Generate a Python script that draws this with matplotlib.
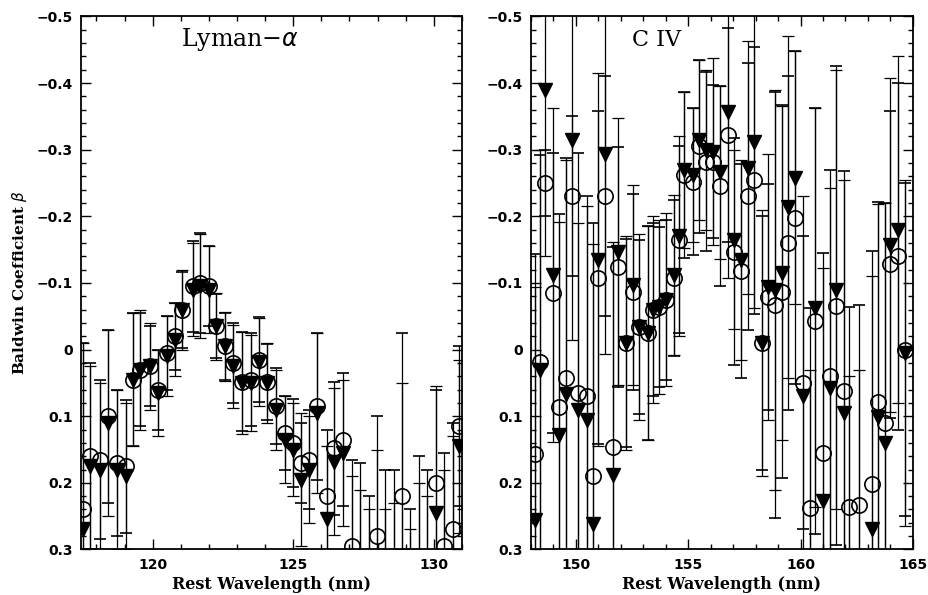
import numpy as np
import matplotlib
matplotlib.use("Agg")
import matplotlib.pyplot as plt
from matplotlib.ticker import FixedLocator, MultipleLocator

# ---- Lyman-alpha panel: wavelength (nm), beta for the two samples, 1-sigma errors
lya_wave = [117.52, 117.77, 118.12, 118.40, 118.72, 119.04, 119.29, 119.54, 119.89, 120.18,
            120.50, 120.78, 121.06, 121.42, 121.67, 121.99, 122.27, 122.59, 122.87, 123.19,
            123.51, 123.79, 124.08, 124.40, 124.72, 125.00, 125.28, 125.57, 125.85, 126.21,
            126.45, 126.77, 127.09, 127.38, 127.70, 127.98, 128.26, 128.58, 128.87, 129.15,
            129.47, 129.75, 130.07, 130.35, 130.67, 130.89]
lya_circ = [0.24, 0.16, 0.165, 0.10, 0.17, 0.175, 0.045, 0.03, 0.025, 0.06,
            0.005, -0.02, -0.06, -0.095, -0.10, -0.095, -0.035, -0.005, 0.02, 0.048,
            0.045, 0.015, 0.048, 0.085, 0.125, 0.14, 0.17, 0.165, 0.085, 0.22,
            0.148, 0.135, 0.295, 0.33, 0.36, 0.28, 0.34, 0.38, 0.22, 0.40,
            0.36, 0.38, 0.20, 0.295, 0.27, 0.115]
lya_tri = [0.27, 0.175, 0.18, 0.11, 0.18, 0.19, 0.045, 0.03, 0.025, 0.065,
           0.01, -0.015, -0.06, -0.09, -0.095, -0.09, -0.035, -0.005, 0.025, 0.05,
           0.05, 0.018, 0.05, 0.09, 0.135, 0.15, 0.195, 0.18, 0.095, 0.255,
           0.168, 0.155, 0.34, 0.38, 0.40, 0.35, 0.42, 0.45, 0.31, 0.45,
           0.42, 0.44, 0.245, 0.34, 0.31, 0.145]
lya_circ_err = [0.25, 0.14, 0.12, 0.13, 0.11, 0.10, 0.10, 0.085, 0.06, 0.06,
                0.056, 0.05, 0.057, 0.068, 0.075, 0.06, 0.048, 0.05, 0.06, 0.074,
                0.07, 0.064, 0.057, 0.057, 0.055, 0.066, 0.06, 0.075, 0.11, 0.10,
                0.10, 0.10, 0.13, 0.16, 0.14, 0.18, 0.16, 0.20, 0.245, 0.16,
                0.20, 0.20, 0.14, 0.14, 0.16, 0.12]
lya_tri_err = [0.28, 0.15, 0.13, 0.14, 0.12, 0.11, 0.10, 0.09, 0.065, 0.065,
               0.06, 0.055, 0.06, 0.07, 0.078, 0.065, 0.05, 0.052, 0.062, 0.076,
               0.072, 0.066, 0.06, 0.06, 0.065, 0.07, 0.10, 0.08, 0.12, 0.11,
               0.11, 0.11, 0.15, 0.17, 0.16, 0.20, 0.18, 0.22, 0.26, 0.18,
               0.22, 0.22, 0.19, 0.16, 0.18, 0.13]

# ---- C IV panel
civ_wave = [148.18, 148.40, 148.63, 148.98, 149.25, 149.57, 149.83, 150.10, 150.51, 150.77,
            151.00, 151.31, 151.67, 151.89, 152.25, 152.52, 152.79, 153.19, 153.41, 153.68,
            154.00, 154.35, 154.57, 154.80, 155.20, 155.47, 155.79, 156.10, 156.41, 156.77,
            157.04, 157.35, 157.66, 157.93, 158.29, 158.56, 158.87, 159.19, 159.45, 159.77,
            160.13, 160.44, 160.66, 161.02, 161.29, 161.60, 161.92, 162.18, 162.59, 163.17,
            163.44, 163.75, 163.97, 164.33, 164.64]
civ_circ = [0.157, 0.018, -0.25, -0.085, 0.086, 0.043, -0.23, 0.065, 0.07, 0.19,
            -0.108, -0.23, 0.146, -0.124, -0.01, -0.087, -0.034, -0.025, -0.06, -0.064,
            -0.075, -0.108, -0.165, -0.262, -0.252, -0.305, -0.282, -0.282, -0.245, -0.322,
            -0.147, -0.118, -0.23, -0.254, -0.01, -0.079, -0.067, -0.087, -0.16, -0.198,
            0.05, 0.238, -0.043, 0.155, 0.04, -0.066, 0.062, 0.236, 0.233, 0.202,
            0.078, 0.11, -0.128, -0.14, 0.0]
civ_tri = [0.256, 0.03, -0.39, -0.112, 0.128, 0.066, -0.315, 0.09, 0.105, 0.262,
           -0.135, -0.294, 0.188, -0.147, -0.01, -0.097, -0.034, -0.025, -0.06, -0.064,
           -0.075, -0.112, -0.17, -0.27, -0.262, -0.315, -0.30, -0.297, -0.266, -0.357,
           -0.165, -0.135, -0.273, -0.312, -0.01, -0.094, -0.09, -0.115, -0.214, -0.258,
           0.07, 0.33, -0.063, 0.227, 0.058, -0.09, 0.095, 0.34, 0.33, 0.27,
           0.101, 0.14, -0.157, -0.18, 0.005]
civ_circ_err = [0.30, 0.31, 0.05, 0.21, 0.29, 0.33, 0.12, 0.36, 0.30, 0.38,
                0.25, 0.18, 0.30, 0.18, 0.156, 0.147, 0.13, 0.16, 0.13, 0.12,
                0.12, 0.117, 0.14, 0.125, 0.11, 0.13, 0.134, 0.115, 0.15, 0.16,
                0.17, 0.16, 0.20, 0.20, 0.19, 0.17, 0.32, 0.28, 0.25, 0.25,
                0.22, 0.30, 0.32, 0.30, 0.31, 0.36, 0.33, 0.30, 0.30, 0.35,
                0.30, 0.33, 0.23, 0.26, 0.25]
civ_tri_err = [0.35, 0.33, 0.25, 0.25, 0.32, 0.35, 0.30, 0.28, 0.32, 0.42,
               0.28, 0.30, 0.35, 0.20, 0.16, 0.15, 0.14, 0.16, 0.14, 0.13,
               0.13, 0.12, 0.15, 0.117, 0.10, 0.12, 0.12, 0.14, 0.13, 0.25,
               0.134, 0.15, 0.19, 0.25, 0.20, 0.20, 0.30, 0.25, 0.256, 0.19,
               0.30, 0.30, 0.30, 0.35, 0.30, 0.33, 0.35, 0.30, 0.30, 0.38,
               0.32, 0.36, 0.25, 0.26, 0.26]

ytick_vals = [-0.5, -0.4, -0.3, -0.2, -0.1, 0.0, 0.1, 0.2, 0.3]
ytick_labels = ["\u22120.5", "\u22120.4", "\u22120.3", "\u22120.2", "\u22120.1", "0", "0.1", "0.2", "0.3"]
lya_xticks = [120, 125, 130]
civ_xticks = [150, 155, 160, 165]

tick_font = {"family": "DejaVu Sans", "weight": "bold", "size": 10}
label_font = {"family": "DejaVu Serif", "weight": "bold", "size": 11.5}

fig = plt.figure(figsize=(9.29, 5.95), dpi=100)
ax1 = fig.add_axes([0.0872, 0.0765, 0.410, 0.896])
ax2 = fig.add_axes([0.5716, 0.0765, 0.411, 0.896])


def draw_panel(ax, wave, circ, tri, circ_err, tri_err, xlim, xticks):
    ax.errorbar(wave, tri, yerr=tri_err, fmt="v", color="black", ms=10,
                elinewidth=0.9, capsize=4.5, capthick=0.9, zorder=3)
    ax.errorbar(wave, circ, yerr=circ_err, fmt="o", color="black", mfc="none",
                mec="black", mew=1.2, ms=11, elinewidth=0.9, capsize=4.5,
                capthick=0.9, zorder=4)
    ax.set_xlim(*xlim)
    ax.set_ylim(0.3, -0.5)
    ax.yaxis.set_major_locator(FixedLocator(ytick_vals))
    ax.set_yticklabels(ytick_labels, fontdict=tick_font)
    ax.yaxis.set_minor_locator(MultipleLocator(0.02))
    ax.xaxis.set_major_locator(FixedLocator(xticks))
    ax.set_xticklabels([str(t) for t in xticks], fontdict=tick_font)
    ax.xaxis.set_minor_locator(MultipleLocator(1))
    ax.tick_params(which="both", direction="in", top=True, right=True, width=1.0)
    ax.tick_params(which="major", length=7, pad=6)
    ax.tick_params(which="minor", length=3.5)
    for s in ax.spines.values():
        s.set_linewidth(1.3)
    ax.set_xlabel("Rest Wavelength (nm)", fontdict=label_font, labelpad=3)


draw_panel(ax1, lya_wave, lya_circ, lya_tri, lya_circ_err, lya_tri_err, (117.45, 131.0), lya_xticks)
draw_panel(ax2, civ_wave, civ_circ, civ_tri, civ_circ_err, civ_tri_err, (148.0, 165.0), civ_xticks)

ax1.set_ylabel("Baldwin Coefficient $\\beta$", fontdict={"family": "DejaVu Serif", "weight": "bold", "size": 11}, labelpad=5)
ax1.text(121.0, -0.455, "Lyman\u2212$\\alpha$", family="DejaVu Serif", fontsize=17)
ax2.text(152.5, -0.455, "C IV", family="DejaVu Serif", fontsize=16)

fig.savefig("out.png", dpi=100)
